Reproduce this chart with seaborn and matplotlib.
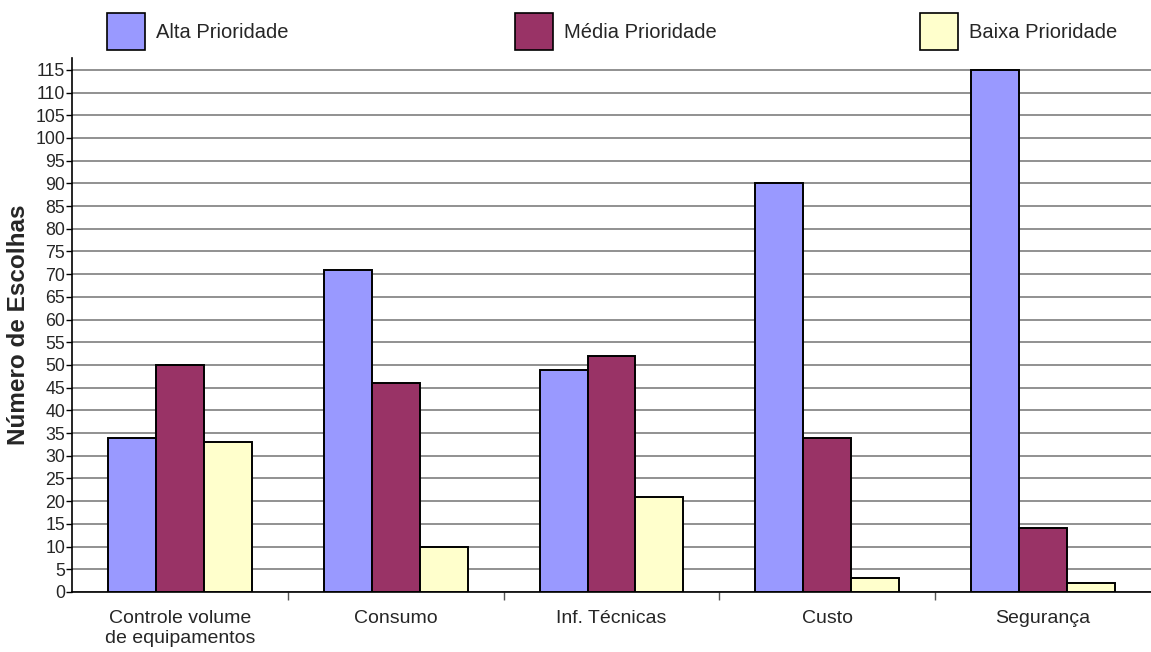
import matplotlib
matplotlib.use("Agg")
import matplotlib.pyplot as plt
from matplotlib.patches import Patch
from matplotlib.ticker import FixedLocator
import seaborn as sns
import pandas as pd

categorias = ["Controle volume\nde equipamentos", "Consumo", "Inf. Técnicas", "Custo", "Segurança"]
series = ["Alta Prioridade", "Média Prioridade", "Baixa Prioridade"]
alta = [34, 71, 49, 90, 115]
media = [50, 46, 52, 34, 14]
baixa = [33, 10, 21, 3, 2]
cores = ["#9999FF", "#993366", "#FFFFCC"]

rows = []
for s, vals in zip(series, [alta, media, baixa]):
    for c, v in zip(categorias, vals):
        rows.append({"categoria": c, "prioridade": s, "valor": v})
df = pd.DataFrame(rows)

sns.set_theme(style="white")
plt.rcParams["font.family"] = ["Liberation Sans", "DejaVu Sans"]

fig = plt.figure(figsize=(11.51, 6.52), dpi=100)
ax = fig.add_axes([72/1151, 1-592/652, 1-72/1151, (592-58)/652])

sns.barplot(data=df, x="categoria", y="valor", hue="prioridade",
            order=categorias, hue_order=series, palette=cores,
            width=0.667, gap=0, edgecolor="black", linewidth=1.4,
            saturation=1, legend=False, ax=ax, zorder=3)

ax.set_xlim(-0.5, 4.5)
ax.set_ylim(0, 117.6)
ax.set_yticks(range(0, 116, 5))
ax.grid(axis="y", color="#888888", linewidth=1.3, zorder=0)
ax.set_axisbelow(True)

ax.set_xlabel("")
ax.set_ylabel("Número de Escolhas", fontsize=17.5, fontweight="bold", labelpad=4)

ax.tick_params(axis="y", which="major", left=True, length=4, width=1, color="black",
               labelsize=12.8, pad=1)
ax.tick_params(axis="x", which="major", bottom=False, labelsize=14, pad=7)
ax.xaxis.set_minor_locator(FixedLocator([0.5, 1.5, 2.5, 3.5]))
ax.tick_params(axis="x", which="minor", bottom=True, length=6, width=1, color="#555555")

for side in ["top", "right"]:
    ax.spines[side].set_visible(False)
for side in ["left", "bottom"]:
    ax.spines[side].set_color("black")
    ax.spines[side].set_linewidth(1.2)

lx = [108, 516, 921]
for s, c, x in zip(series, cores, lx):
    fig.legend(handles=[Patch(facecolor=c, edgecolor="black", linewidth=1.2, label=s)],
               loc="upper left", bbox_to_anchor=(x/1151 - 0.004, 1 - 9/652),
               frameon=False, fontsize=14.5, handlelength=1.85, handleheight=2.45,
               handletextpad=0.55, borderpad=0.2, borderaxespad=0)

fig.savefig("out.png", dpi=100)
